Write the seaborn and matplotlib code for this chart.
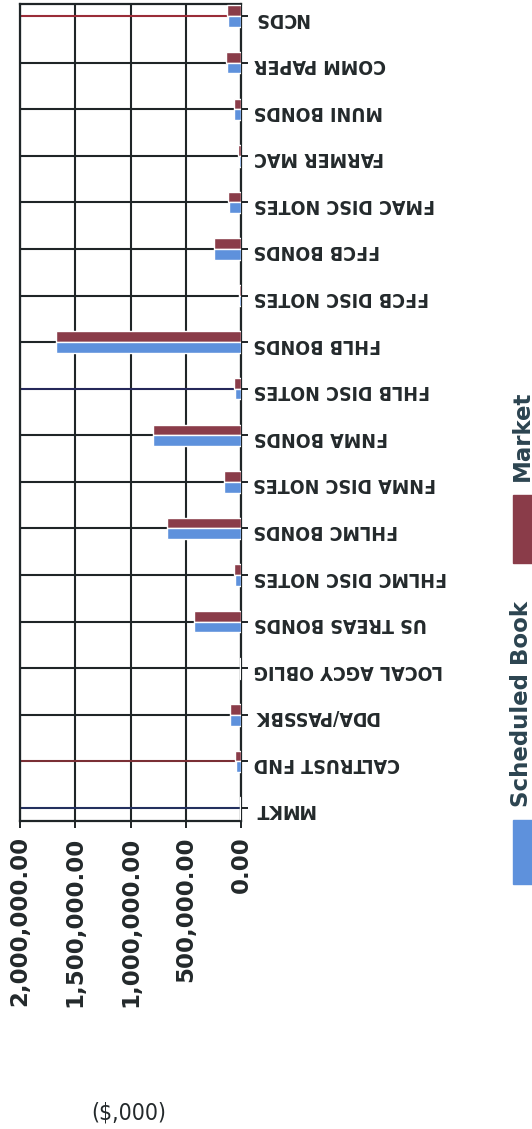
"""Investment holdings: scheduled book vs market value, scanned-sideways layout."""
import matplotlib

matplotlib.use("Agg")
import matplotlib.pyplot as plt
import matplotlib.patches as mpatches
from matplotlib.ticker import FuncFormatter
import pandas as pd
import seaborn as sns

sns.set_theme(style="white")
plt.rcParams["font.family"] = ["DejaVu Sans"]

# top of the chart first (seaborn puts the first category on top)
categories = [
    "NCDS", "COMM PAPER", "MUNI BONDS", "FARMER MAC", "FMAC DISC NOTES",
    "FFCB BONDS", "FFCB DISC NOTES", "FHLB BONDS", "FHLB DISC NOTES",
    "FNMA BONDS", "FNMA DISC NOTES", "FHLMC BONDS", "FHLMC DISC NOTES",
    "US TREAS BONDS", "LOCAL AGCY OBLIG", "DDA/PASSBK", "CALTRUST FND", "MMKT",
]
market = [125000, 135000, 65000, 25000, 115000, 245000, 20000, 1670000, 60000,
          800000, 155000, 670000, 60000, 425000, 5000, 100000, 55000, 5000]
book = [120000, 130000, 60000, 20000, 110000, 245000, 15000, 1670000, 55000,
        800000, 150000, 670000, 55000, 425000, 5000, 100000, 50000, 5000]
series = ["Market", "Scheduled Book"]
value_ticks = [0, 500000, 1000000, 1500000, 2000000]

colors = {"Market": "#8a3c49", "Scheduled Book": "#5e91dc"}
line_col = "#1f2527"
text_col = "#23292b"
# scan tinted a few of the category lines
tinted = {"NCDS": "#9a2d38", "CALTRUST FND": "#7a2f35",
          "FHLB DISC NOTES": "#25285a", "MMKT": "#23305e"}
narrow = ["DejaVu Sans", "Liberation Sans"]

df = pd.DataFrame({
    "category": categories * 2,
    "value": market + book,
    "series": ["Market"] * len(categories) + ["Scheduled Book"] * len(categories),
})

fig = plt.figure(figsize=(5.32, 11.29), dpi=100)
ax = fig.add_axes([0.0376, 0.2728, 0.4155, 0.7237])

sns.barplot(data=df, y="category", x="value", hue="series", hue_order=series,
            order=categories, palette=colors, width=0.46, orient="h",
            saturation=1, legend=False, ax=ax, zorder=3)

ax.set_xlim(2000000, 0)
ax.set_ylim(len(categories) - 1 + 0.28, -0.26)
ax.set_xticks(value_ticks)
ax.xaxis.set_major_formatter(FuncFormatter(lambda v, _: f"{v:,.2f}"))

ax.set_axisbelow(True)
ax.grid(True, axis="both", color=line_col, linewidth=1.5)
for cat, gl in zip(categories, ax.get_ygridlines()):
    if cat in tinted:
        gl.set_color(tinted[cat])
for s in ax.spines.values():
    s.set_color(line_col)
    s.set_linewidth(1.6)

ax.yaxis.tick_right()
ax.tick_params(axis="y", labelrotation=180, length=5, width=1.4, color=line_col,
               pad=4, labelcolor=text_col)
ax.tick_params(axis="x", labelrotation=90, length=5, width=1.4, color=line_col,
               pad=6, labelsize=16.5, labelcolor=text_col, bottom=True)
for lbl in ax.get_yticklabels():
    lbl.set_family(narrow)
    lbl.set_fontstretch("condensed")
    lbl.set_fontweight("bold")
    lbl.set_fontsize(14)
for lbl in ax.get_xticklabels():
    lbl.set_fontweight("bold")
ax.set_xlabel("")
ax.set_ylabel("")

fig.text(0.242, 0.004, "($,000)", ha="center", va="bottom", fontsize=16.5,
         color=text_col, family=narrow, fontstretch="condensed")

# legend, drawn sideways like the scan
fig.patches.append(mpatches.Rectangle((513 / 532, 1 - 884 / 1129), 19 / 532, 64 / 1129,
                                      transform=fig.transFigure,
                                      color=colors["Scheduled Book"]))
fig.patches.append(mpatches.Rectangle((513 / 532, 1 - 563 / 1129), 19 / 532, 68 / 1129,
                                      transform=fig.transFigure,
                                      color=colors["Market"]))
fig.text(522 / 532, 1 - 807 / 1129, "Scheduled Book", rotation=90, ha="center",
         va="bottom", fontsize=16.5, fontweight="bold", color="#2c4450")
fig.text(522 / 532, 1 - 481 / 1129, "Market", rotation=90, ha="center",
         va="bottom", fontsize=16.5, fontweight="bold", color="#2c4450")

fig.savefig("out.png", dpi=100)
plt.close(fig)
